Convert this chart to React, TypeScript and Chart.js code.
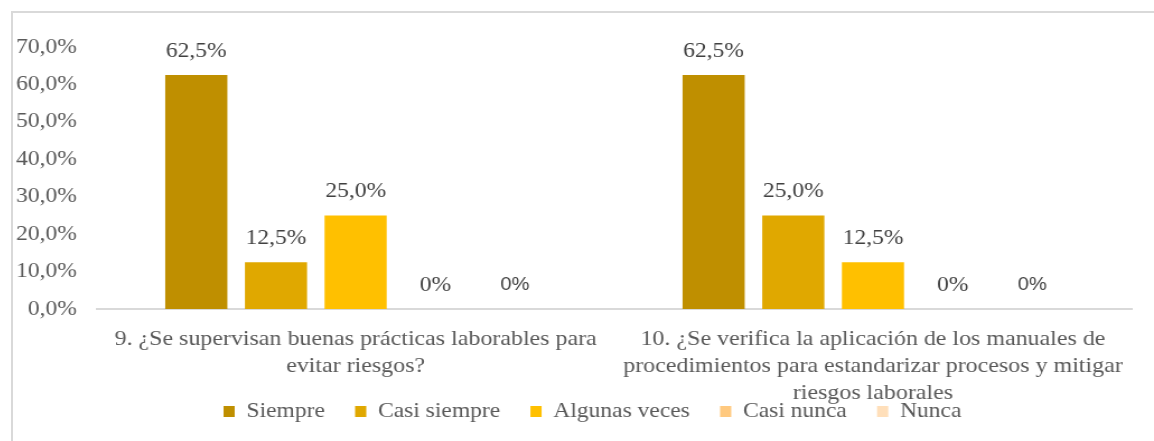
import React, { useEffect, useRef } from "react";
import { Chart, registerables } from "chart.js";

Chart.register(...registerables);

const categories: string[][] = [
  ["9. ¿Se supervisan buenas prácticas laborables para", "evitar riesgos?"],
  [
    "10. ¿Se verifica la aplicación de los manuales de",
    "procedimientos para estandarizar procesos y mitigar",
    "riesgos laborales",
  ],
];
const seriesNames = ["Siempre", "Casi siempre", "Algunas veces", "Casi nunca", "Nunca"];
const siempre = [62.5, 62.5];
const casiSiempre = [12.5, 25.0];
const algunasVeces = [25.0, 12.5];
const casiNunca = [0, 0];
const nunca = [0, 0];
const seriesColors = ["#BF8F00", "#E0A800", "#FFC000", "#FFC97F", "#FFDFBA"];
const yTicks = [0, 10, 20, 30, 40, 50, 60, 70];

const SERIF = '"Liberation Serif", "Times New Roman", serif';
const SANS = '"Liberation Sans", Arial, sans-serif';

// the reference picture is stretched horizontally
const STRETCH = 1.1197;
const OUTER_W = 1141;
const CANVAS_W = Math.round(OUTER_W / STRETCH);
const CANVAS_H = 428;

const fmt = (v: number) => (v === 0 ? "0%" : v.toFixed(1).replace(".", ",") + "%");

const labelPlugin = {
  id: "barLabels",
  afterDatasetsDraw(chart: any) {
    const ctx = chart.ctx;
    ctx.save();
    ctx.textAlign = "center";
    ctx.textBaseline = "middle";
    chart.data.datasets.forEach((ds: any, di: number) => {
      const meta = chart.getDatasetMeta(di);
      meta.data.forEach((bar: any, i: number) => {
        const v = ds.data[i] as number;
        ctx.font = di === 4 ? `18px ${SANS}` : `21px ${SERIF}`;
        ctx.fillStyle = "#404040";
        ctx.fillText(fmt(v), bar.x, bar.y - 24);
      });
    });
    ctx.restore();
  },
};

export default function App() {
  const ref = useRef<HTMLCanvasElement | null>(null);
  useEffect(() => {
    document.body.style.overflow = "hidden";
    const values = [siempre, casiSiempre, algunasVeces, casiNunca, nunca];
    const chart = new Chart(ref.current as HTMLCanvasElement, {
      type: "bar",
      data: {
        labels: categories as any,
        datasets: seriesNames.map((name, i) => ({
          label: name,
          data: values[i],
          backgroundColor: seriesColors[i],
          borderWidth: 0,
          categoryPercentage: 0.77,
          barPercentage: 0.78,
        })),
      },
      options: {
        animation: false,
        responsive: false,
        devicePixelRatio: 1,
        layout: { padding: { top: 34, right: 20, left: 36, bottom: 9 } },
        plugins: {
          tooltip: { enabled: false },
          legend: {
            position: "bottom",
            labels: {
              boxWidth: 10,
              boxHeight: 11,
              padding: 27,
              color: "#595959",
              font: { family: SERIF, size: 21 },
            },
          },
        },
        scales: {
          x: {
            grid: { display: false, drawTicks: false },
            border: { display: true, color: "#D9D9D9", width: 2 },
            ticks: {
              color: "#595959",
              font: { family: SERIF, size: 21.4, lineHeight: 1.262 },
              padding: 17,
              maxRotation: 0,
              autoSkip: false,
            },
            afterFit: (s: any) => {
              s.height = 65;
              s._computeLabelArea = () => undefined;
            },
          },
          y: {
            min: 0,
            max: 70,
            grid: { display: false, drawTicks: false },
            border: { display: false },
            afterBuildTicks: (s: any) => {
              s.ticks = yTicks.map((v) => ({ value: v }));
            },
            ticks: {
              color: "#595959",
              font: { family: SERIF, size: 21 },
              padding: 18,
              callback: (v: any) => Number(v).toFixed(1).replace(".", ",") + "%",
            },
            afterFit: (s: any) => {
              s.width = 39;
              s._computeLabelArea = () => undefined;
            },
          },
        },
      },
      plugins: [labelPlugin],
    });
    return () => chart.destroy();
  }, []);
  return (
    <div
      style={{
        position: "absolute",
        left: 11,
        top: 11,
        width: OUTER_W,
        height: CANVAS_H,
        borderLeft: "2px solid #D9D9D9",
        borderTop: "2px solid #D9D9D9",
        background: "#fff",
        overflow: "hidden",
      }}
    >
      <canvas
        ref={ref}
        width={CANVAS_W}
        height={CANVAS_H}
        style={{ display: "block", transform: `scaleX(${OUTER_W / CANVAS_W})`, transformOrigin: "0 0" }}
      />
    </div>
  );
}
